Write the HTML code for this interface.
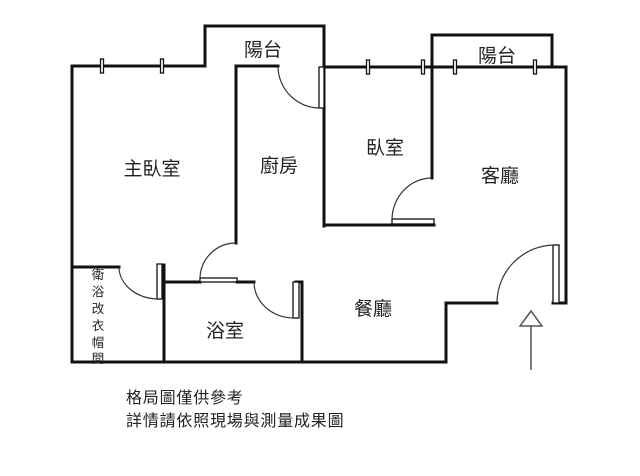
<!DOCTYPE html>
<html><head><meta charset="utf-8"><style>
body{margin:0;background:#fff;width:640px;height:476px;overflow:hidden}
svg{display:block}
text{font-family:"Liberation Sans","Noto Sans CJK TC",sans-serif;fill:#222}
</style></head><body>
<svg width="640" height="476" viewBox="0 0 640 476">
<g stroke="#111" stroke-width="3" fill="none" stroke-linecap="square">
<polyline points="72,362 72,66 205,66"/>
<polyline points="205,66 205,26 324,26 324,226"/>
<line x1="236" y1="66" x2="278" y2="66"/>
<line x1="236" y1="66" x2="236" y2="243"/>
<line x1="324" y1="67" x2="566" y2="67"/>
<polyline points="432,67 432,35 552,35 552,67"/>
<line x1="432" y1="67" x2="432" y2="178"/>
<line x1="324" y1="225" x2="434" y2="225"/>
<polyline points="566,67 566,303 553,303"/>
<polyline points="497,303 446,303 446,362 72,362"/>
<line x1="72" y1="267" x2="119" y2="267"/>
<line x1="164" y1="265" x2="164" y2="362"/>
<line x1="164" y1="282" x2="200" y2="282"/>
<line x1="237" y1="282" x2="254" y2="282"/>
<polyline points="296,282 302,282 302,362"/>
</g>
<g stroke="#111" stroke-width="1.3" fill="#fff">
<rect x="319" y="67" width="5" height="41"/>
<rect x="392" y="219" width="42" height="5"/>
<rect x="553" y="245" width="6" height="58"/>
<rect x="157" y="264" width="5" height="35"/>
<rect x="200" y="278" width="37" height="4"/>
<rect x="293" y="282" width="6" height="36"/>
<rect x="100.5" y="59" width="3" height="14"/>
<rect x="160.5" y="59" width="3" height="14"/>
<rect x="366.5" y="60" width="3" height="14"/>
<rect x="421.5" y="60" width="3" height="14"/>
<rect x="453.5" y="60" width="3" height="14"/>
<rect x="533.5" y="60" width="3" height="14"/>
</g>
<g stroke="#333" stroke-width="1.2" fill="none">
<path d="M278,67 A42,42 0 0 0 320,108"/>
<path d="M392,220 A40,42 0 0 1 432,178"/>
<path d="M497,302 A58,58 0 0 1 555,245"/>
<path d="M119,267 A40,32 0 0 0 159,299"/>
<path d="M200,279 A36,36 0 0 1 236,243"/>
<path d="M254,282 A40,36 0 0 0 294,318"/>
</g>
<g stroke="#555" stroke-width="1.5" fill="#fff">
<polygon points="531,311 520,326 542,326"/>
<line x1="531" y1="326" x2="531" y2="370"/>
</g>
<g font-size="19">
<text x="263" y="56" text-anchor="middle">陽台</text>
<text x="497" y="62" text-anchor="middle">陽台</text>
<text x="152" y="175" text-anchor="middle">主臥室</text>
<text x="279" y="172" text-anchor="middle">廚房</text>
<text x="385" y="154" text-anchor="middle">臥室</text>
<text x="500" y="182" text-anchor="middle">客廳</text>
<text x="225" y="337" text-anchor="middle">浴室</text>
<text x="373" y="315" text-anchor="middle">餐廳</text>
</g>
<g font-size="12.5" text-anchor="middle" fill="#333">
<text x="98" y="279">衛</text>
<text x="98" y="296">浴</text>
<text x="98" y="313">改</text>
<text x="98" y="330">衣</text>
<text x="98" y="347">帽</text>
<text x="98" y="363">間</text>
</g>
<g font-size="16" letter-spacing="0.8">
<text x="126" y="403">格局圖僅供參考</text>
<text x="126" y="426">詳情請依照現場與測量成果圖</text>
</g>
</svg>
</body></html>
